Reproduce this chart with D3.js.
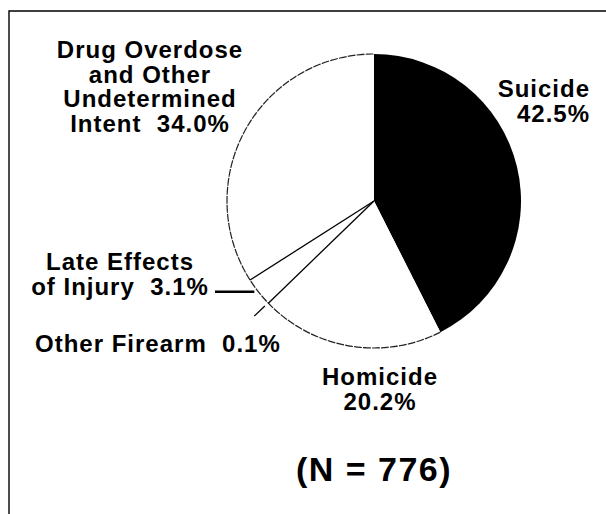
<!DOCTYPE html>
<html lang="en">
<meta charset="utf-8">
<title>Pie: deaths by intent</title>
<script src="https://d3js.org/d3.v7.min.js"></script>
<style>
  body { margin: 0; background: #fff; }
  text { font-family: "Liberation Sans", Arial, sans-serif; font-weight: bold; fill: #000; letter-spacing: 1px; }
</style>
<svg width="606" height="514"></svg>
<script>
// data, clockwise from 12 o'clock
var categories = ["Suicide", "Homicide", "Other Firearm", "Late Effects of Injury", "Drug Overdose and Other Undetermined Intent"];
var percents = [42.5, 20.2, 0.1, 3.1, 34.0];
var fills = ["#000", "#fff", "#fff", "#fff", "#fff"];
var totalN = 776;

var svg = d3.select("svg");
var cx = 374, cy = 201, r = 147;

// frame (top and left edge only)
svg.append("path")
    .attr("d", "M9,514 L9,11 L606,11")
    .attr("fill", "none")
    .attr("stroke", "#000")
    .attr("stroke-width", 1.4);

var pie = d3.pie().sort(null).value(function(d) { return d; });
var arcs = pie(percents);
var arc = d3.arc().innerRadius(0).outerRadius(r);

var g = svg.append("g").attr("transform", "translate(" + cx + "," + cy + ")");

g.selectAll("path.slice")
  .data(arcs)
  .enter().append("path")
    .attr("class", "slice")
    .attr("d", arc)
    .attr("fill", function(d, i) { return fills[i]; })
    .attr("stroke", "none");

function pt(a, rr) { return [Math.sin(a) * rr, -Math.cos(a) * rr]; }

// outline of the white part (thin, broken looking)
var white = arcs.slice(1);
g.append("path")
    .attr("d", d3.arc().innerRadius(r).outerRadius(r)
      .startAngle(white[0].startAngle).endAngle(white[white.length - 1].endAngle)())
    .attr("fill", "none")
    .attr("stroke", "#222")
    .attr("stroke-width", 1.2)
    .attr("stroke-dasharray", "7,2");

// radial lines between white slices
[arcs[1].endAngle, arcs[3].endAngle].forEach(function(a) {
  var p = pt(a, r);
  g.append("line")
      .attr("x1", 0).attr("y1", 0)
      .attr("x2", p[0]).attr("y2", p[1])
      .attr("stroke", "#000")
      .attr("stroke-width", 1.3);
});

// leaders
var lateMid = (arcs[3].startAngle + arcs[3].endAngle) / 2;
var lp = pt(lateMid, r);
g.append("line")
    .attr("x1", lp[0] - 4).attr("y1", lp[1])
    .attr("x2", 215 - cx).attr("y2", lp[1])
    .attr("stroke", "#000")
    .attr("stroke-width", 2.5);

var ofMid = (arcs[2].startAngle + arcs[2].endAngle) / 2;
var o1 = pt(ofMid, r * 1.03), o2 = pt(ofMid, r * 1.13);
g.append("line")
    .attr("x1", o1[0]).attr("y1", o1[1])
    .attr("x2", o2[0]).attr("y2", o2[1])
    .attr("stroke", "#000")
    .attr("stroke-width", 1.3);

// labels
function label(lines, x, y, anchor, size) {
  var t = svg.append("text")
      .attr("x", x).attr("y", y)
      .attr("text-anchor", anchor)
      .style("font-size", (size || 24) + "px");
  lines.forEach(function(s, i) {
    t.append("tspan").attr("x", x).attr("dy", i ? 24.7 : 0)
      .attr("xml:space", "preserve").text(s);
  });
  return t;
}

label(["Drug Overdose", "and Other", "Undetermined", "Intent  " + percents[4].toFixed(1) + "%"], 150, 58, "middle");
label([categories[0], percents[0].toFixed(1) + "%"], 590, 97, "end");
label(["Late Effects", "of Injury  " + percents[3].toFixed(1) + "%"], 120, 270, "middle");
label([categories[2] + "  " + percents[2].toFixed(1) + "%"], 35, 352, "start");
label([categories[1], percents[1].toFixed(1) + "%"], 380, 385, "middle");
label(["(N = " + totalN + ")"], cx, 481, "middle", 34).style("letter-spacing", "1.5px");
</script>
</html>
